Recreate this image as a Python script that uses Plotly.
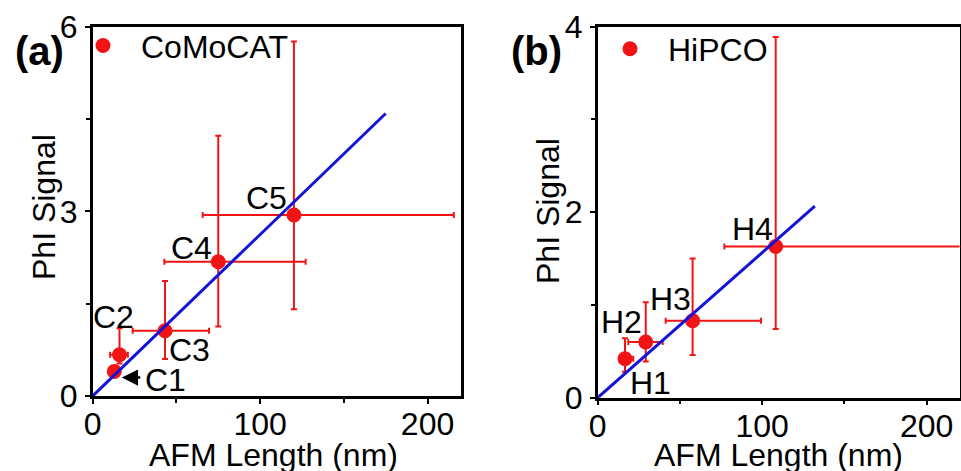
import plotly.graph_objects as go

# ---------- data ----------
# Panel (a) CoMoCAT
c_labels = ["C1", "C2", "C3", "C4", "C5"]
c_len = [12.9, 16.0, 43.2, 75.0, 120.2]
c_len_lo = [10.0, 10.4, 23.9, 42.8, 65.7]
c_len_hi = [16.0, 21.0, 69.5, 127.2, 215.7]
c_sig = [0.40, 0.67, 1.06, 2.18, 2.94]
c_sig_lo = [0.32, 0.53, 0.60, 1.13, 1.41]
c_sig_hi = [0.48, 1.10, 1.87, 4.23, 5.76]
c_fit_x = [0, 175]
c_fit_y = [0, 4.59]
c_lab_x = [43.6, 12.3, 57.7, 59.1, 103.9]
c_lab_y = [0.26, 1.29, 0.75, 2.40, 3.22]

# Panel (b) HiPCO
h_labels = ["H1", "H2", "H3", "H4"]
h_len = [16.6, 29.2, 57.7, 108.2]
h_len_lo = [13.1, 18.6, 41.3, 77.0]
h_len_hi = [21.6, 39.5, 99.3, 225.0]
h_sig = [0.42, 0.60, 0.83, 1.63]
h_sig_lo = [0.28, 0.39, 0.46, 0.74]
h_sig_hi = [0.64, 1.03, 1.50, 3.89]
h_fit_x = [0, 132]
h_fit_y = [0, 2.065]
h_lab_x = [31.8, 14.6, 44.0, 94.2]
h_lab_y = [0.156, 0.82, 1.06, 1.82]

x_title = "AFM Length (nm)"
y_title = "PhI Signal"

RED = "#f01414"
BLUE = "#1414d8"
FONT = "Liberation Sans, Arial, sans-serif"
FS = 32
TFS = 32
W, H = 961, 471


def errs(v, lo, hi):
    return [h - x for x, h in zip(v, hi)], [x - l for x, l in zip(v, lo)]


fig = go.Figure()

for (xs, xlo, xhi, ys, ylo, yhi, name, xa, ya, leg) in [
    (c_len, c_len_lo, c_len_hi, c_sig, c_sig_lo, c_sig_hi, "CoMoCAT", "x", "y", "legend"),
    (h_len, h_len_lo, h_len_hi, h_sig, h_sig_lo, h_sig_hi, "HiPCO", "x2", "y2", "legend2"),
]:
    ex_p, ex_m = errs(xs, xlo, xhi)
    ey_p, ey_m = errs(ys, ylo, yhi)
    fig.add_trace(go.Scatter(
        x=xs, y=ys, mode="markers", name=name, xaxis=xa, yaxis=ya, legend=leg,
        marker=dict(color=RED, size=15),
        error_x=dict(type="data", array=ex_p, arrayminus=ex_m, color=RED, thickness=2, width=3),
        error_y=dict(type="data", array=ey_p, arrayminus=ey_m, color=RED, thickness=2, width=3),
        cliponaxis=True,
    ))

fig.add_trace(go.Scatter(x=c_fit_x, y=c_fit_y, mode="lines", line=dict(color=BLUE, width=3),
                         xaxis="x", yaxis="y", showlegend=False))
fig.add_trace(go.Scatter(x=h_fit_x, y=h_fit_y, mode="lines", line=dict(color=BLUE, width=3),
                         xaxis="x2", yaxis="y2", showlegend=False))

annotations = []
for lab, x, y in zip(c_labels, c_lab_x, c_lab_y):
    annotations.append(dict(x=x, y=y, xref="x", yref="y", text=lab, showarrow=False,
                            font=dict(family=FONT, size=FS, color="black"),
                            xanchor="center", yanchor="middle"))
for lab, x, y in zip(h_labels, h_lab_x, h_lab_y):
    annotations.append(dict(x=x, y=y, xref="x2", yref="y2", text=lab, showarrow=False,
                            font=dict(family=FONT, size=FS, color="black"),
                            xanchor="center", yanchor="middle"))
# arrow pointing at C1
annotations.append(dict(x=c_len[0] + 4.5, y=c_sig[0] - 0.1, xref="x", yref="y", text="",
                        showarrow=True, arrowhead=2, arrowsize=1.3, arrowwidth=2.5,
                        arrowcolor="black", ax=20, ay=0))


def paper_text(text, px, py, size, angle=0, bold=False):
    return dict(x=px / W, y=1 - py / H, xref="paper", yref="paper",
                text=f"<b>{text}</b>" if bold else text, textangle=angle,
                showarrow=False, font=dict(family=FONT, size=size, color="black"),
                xanchor="center", yanchor="middle")


# panel labels
annotations.append(paper_text("(a)", 39, 51, 40, bold=True))
annotations.append(paper_text("(b)", 536, 51, 40, bold=True))
# axis titles
annotations.append(paper_text(x_title, 273, 455, FS))
annotations.append(paper_text(x_title, 778, 455, FS))
annotations.append(paper_text(y_title, 44, 207, FS, angle=-90))
annotations.append(paper_text(y_title, 548, 211, FS, angle=-90))

axis_common = dict(showline=True, linecolor="black", linewidth=2.5, mirror=True,
                   ticks="outside", ticklen=5, tickwidth=2, tickcolor="black",
                   showgrid=False, zeroline=False, automargin=False,
                   tickfont=dict(family=FONT, size=TFS, color="black"))

fig.update_layout(
    template="none",
    width=W, height=H,
    margin=dict(l=0, r=0, t=0, b=0, autoexpand=False),
    paper_bgcolor="white", plot_bgcolor="white",
    font=dict(family=FONT, size=FS, color="black"),
    xaxis=dict(domain=[92.7 / W, 461 / W], range=[0, 220], tickvals=[0, 100, 200],
               minor=dict(tickvals=[50, 150]), anchor="y", ticklabelstandoff=-7, **axis_common),
    yaxis=dict(domain=[1 - 396 / H, 1 - 26.7 / H], range=[0, 6], tickvals=[0, 3, 6],
               minor=dict(tickvals=[1.5, 4.5]), anchor="x", ticklabelstandoff=1, **axis_common),
    xaxis2=dict(domain=[597.7 / W, 959.6 / W], range=[0, 220], tickvals=[0, 100, 200],
                minor=dict(tickvals=[50, 150]), anchor="y2", ticklabelstandoff=-7, **axis_common),
    yaxis2=dict(domain=[1 - 397.7 / H, 1 - 26.7 / H], range=[0, 4], tickvals=[0, 2, 4],
                minor=dict(tickvals=[1, 3]), anchor="x2", ticklabelstandoff=1, **axis_common),
    legend=dict(x=65 / W, y=1 - 45.7 / H, xanchor="left", yanchor="middle",
                bgcolor="rgba(0,0,0,0)", itemwidth=66,
                font=dict(family=FONT, size=FS, color="black")),
    legend2=dict(x=592 / W, y=1 - 49 / H, xanchor="left", yanchor="middle",
                 bgcolor="rgba(0,0,0,0)", itemwidth=66,
                 font=dict(family=FONT, size=FS, color="black")),
    annotations=annotations,
    showlegend=True,
)
for ax in ["xaxis", "yaxis", "xaxis2", "yaxis2"]:
    fig.layout[ax].minor.update(ticks="outside", ticklen=4, tickwidth=2, tickcolor="black", showgrid=False)

fig.write_html("out.html")
